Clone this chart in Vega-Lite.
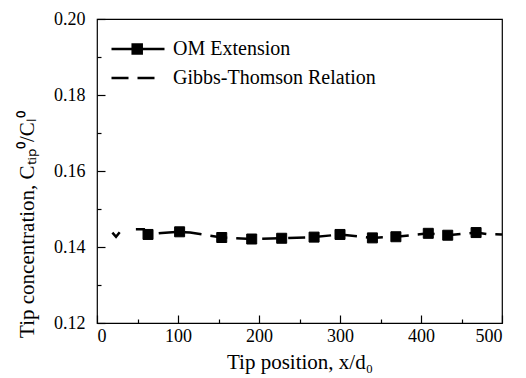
{
  "$schema": "https://vega.github.io/schema/vega-lite/v6.json",
  "width": 405,
  "height": 304,
  "autosize": {"type": "none"},
  "padding": {"left": 97, "top": 19, "right": 24, "bottom": 55},
  "background": "white",
  "config": {
    "font": "Liberation Serif",
    "view": {"stroke": "black", "strokeWidth": 1.2},
    "axis": {
      "domain": false,
      "tickColor": "black", "tickWidth": 1.2,
      "labelColor": "black", "titleColor": "black",
      "grid": false,
      "labelFont": "Liberation Serif", "titleFont": "Liberation Serif",
      "labelFontSize": 18, "titleFontSize": 21, "titleFontWeight": "normal"
    },
    "legend": {"labelFont": "Liberation Serif", "labelFontSize": 20, "labelColor": "black", "labelLimit": 400, "padding": 0}
  },
  "resolve": {"axis": {"x": "independent", "y": "independent"}},
  "datasets": {
    "gt": [
      {"x": 19, "y": 0.1438, "series": "Gibbs-Thomson Relation", "part": "a"},
      {"x": 23.5, "y": 0.1427, "series": "Gibbs-Thomson Relation", "part": "a"},
      {"x": 28, "y": 0.1439, "series": "Gibbs-Thomson Relation", "part": "a"},
      {"x": 48, "y": 0.1447, "series": "Gibbs-Thomson Relation", "part": "b"},
      {"x": 58, "y": 0.1447, "series": "Gibbs-Thomson Relation", "part": "b"},
      {"x": 61, "y": 0.1434, "series": "Gibbs-Thomson Relation", "part": "b"},
      {"x": 64, "y": 0.1433, "series": "Gibbs-Thomson Relation", "part": "b"},
      {"x": 80, "y": 0.1437, "series": "Gibbs-Thomson Relation", "part": "b"},
      {"x": 102, "y": 0.1440, "series": "Gibbs-Thomson Relation", "part": "b"},
      {"x": 115, "y": 0.1438, "series": "Gibbs-Thomson Relation", "part": "b"},
      {"x": 154, "y": 0.1425, "series": "Gibbs-Thomson Relation", "part": "b"},
      {"x": 191, "y": 0.1421, "series": "Gibbs-Thomson Relation", "part": "b"},
      {"x": 228, "y": 0.1423, "series": "Gibbs-Thomson Relation", "part": "b"},
      {"x": 268, "y": 0.1426, "series": "Gibbs-Thomson Relation", "part": "b"},
      {"x": 300, "y": 0.1433, "series": "Gibbs-Thomson Relation", "part": "b"},
      {"x": 340, "y": 0.1424, "series": "Gibbs-Thomson Relation", "part": "b"},
      {"x": 369, "y": 0.1427, "series": "Gibbs-Thomson Relation", "part": "b"},
      {"x": 409, "y": 0.1436, "series": "Gibbs-Thomson Relation", "part": "b"},
      {"x": 433, "y": 0.1431, "series": "Gibbs-Thomson Relation", "part": "b"},
      {"x": 468, "y": 0.1438, "series": "Gibbs-Thomson Relation", "part": "b"},
      {"x": 482, "y": 0.1434, "series": "Gibbs-Thomson Relation", "part": "b"},
      {"x": 500, "y": 0.1433, "series": "Gibbs-Thomson Relation", "part": "b"}
    ],
    "om": [
      {"x": 63, "y": 0.1433, "series": "OM Extension"},
      {"x": 102, "y": 0.1440, "series": "OM Extension"},
      {"x": 154, "y": 0.1425, "series": "OM Extension"},
      {"x": 191, "y": 0.1421, "series": "OM Extension"},
      {"x": 228, "y": 0.1423, "series": "OM Extension"},
      {"x": 268, "y": 0.1426, "series": "OM Extension"},
      {"x": 300, "y": 0.1433, "series": "OM Extension"},
      {"x": 340, "y": 0.1424, "series": "OM Extension"},
      {"x": 369, "y": 0.1427, "series": "OM Extension"},
      {"x": 409, "y": 0.1436, "series": "OM Extension"},
      {"x": 433, "y": 0.1431, "series": "OM Extension"},
      {"x": 468, "y": 0.1438, "series": "OM Extension"}
    ]
  },
  "layer": [
    {
      "data": {"name": "gt"},
      "mark": {"type": "line", "strokeWidth": 2.5, "color": "black"},
      "encoding": {
        "x": {
          "field": "x", "type": "quantitative",
          "scale": {"domain": [0, 500], "nice": false},
          "axis": {
            "orient": "bottom",
            "offset": -8,
            "title": "Tip position, x/d₀",
            "values": [0, 100, 200, 300, 400, 500],
            "tickSize": 8,
            "labelPadding": 4,
            "titlePadding": 6
          }
        },
        "y": {
          "field": "y", "type": "quantitative",
          "scale": {"domain": [0.12, 0.20], "nice": false, "zero": false},
          "axis": {
            "orient": "left",
            "offset": -8,
            "title": "Tip concentration, Cₜᵢₚ⁰/Cₗ⁰",
            "values": [0.12, 0.14, 0.16, 0.18, 0.20],
            "format": ".2f",
            "tickSize": 8,
            "labelPadding": 12,
            "titleX": -78,
            "titleY": 205,
            "titleAngle": -90,
            "titleAlign": "center",
            "titleBaseline": "middle"
          }
        },
        "detail": {"field": "part"},
        "strokeDash": {
          "datum": "Gibbs-Thomson Relation",
          "scale": {"domain": ["Gibbs-Thomson Relation"], "range": [[17, 9]]},
          "legend": {
            "orient": "none",
            "legendX": 13,
            "legendY": 34,
            "title": null,
            "labelOffset": 13,
            "symbolType": "stroke",
            "symbolSize": 2209,
            "symbolStrokeColor": "black",
            "symbolStrokeWidth": 2.5
          }
        }
      }
    },
    {
      "data": {"name": "om"},
      "mark": {"type": "point", "shape": "square", "filled": true, "size": 100, "color": "black", "stroke": "black", "strokeWidth": 1, "opacity": 1},
      "encoding": {
        "x": {
          "field": "x", "type": "quantitative",
          "axis": {
            "orient": "bottom",
            "offset": -4,
            "title": null,
            "values": [50, 150, 250, 350, 450],
            "labels": false,
            "tickSize": 4
          }
        },
        "y": {
          "field": "y", "type": "quantitative",
          "axis": {
            "orient": "left",
            "offset": -4,
            "title": null,
            "values": [0.13, 0.15, 0.17, 0.19],
            "labels": false,
            "tickSize": 4
          }
        },
        "color": {
          "datum": "OM Extension",
          "scale": {"domain": ["OM Extension"], "range": ["black"]},
          "legend": {
            "orient": "none",
            "legendX": 13,
            "legendY": 2,
            "title": null,
            "labelOffset": 7,
            "symbolType": "M-1,0H1M-0.2,-0.17H0.14V0.17H-0.2Z",
            "symbolSize": 2809,
            "symbolFillColor": "black",
            "symbolStrokeColor": "black",
            "symbolStrokeWidth": 2.5
          }
        }
      }
    }
  ]
}
